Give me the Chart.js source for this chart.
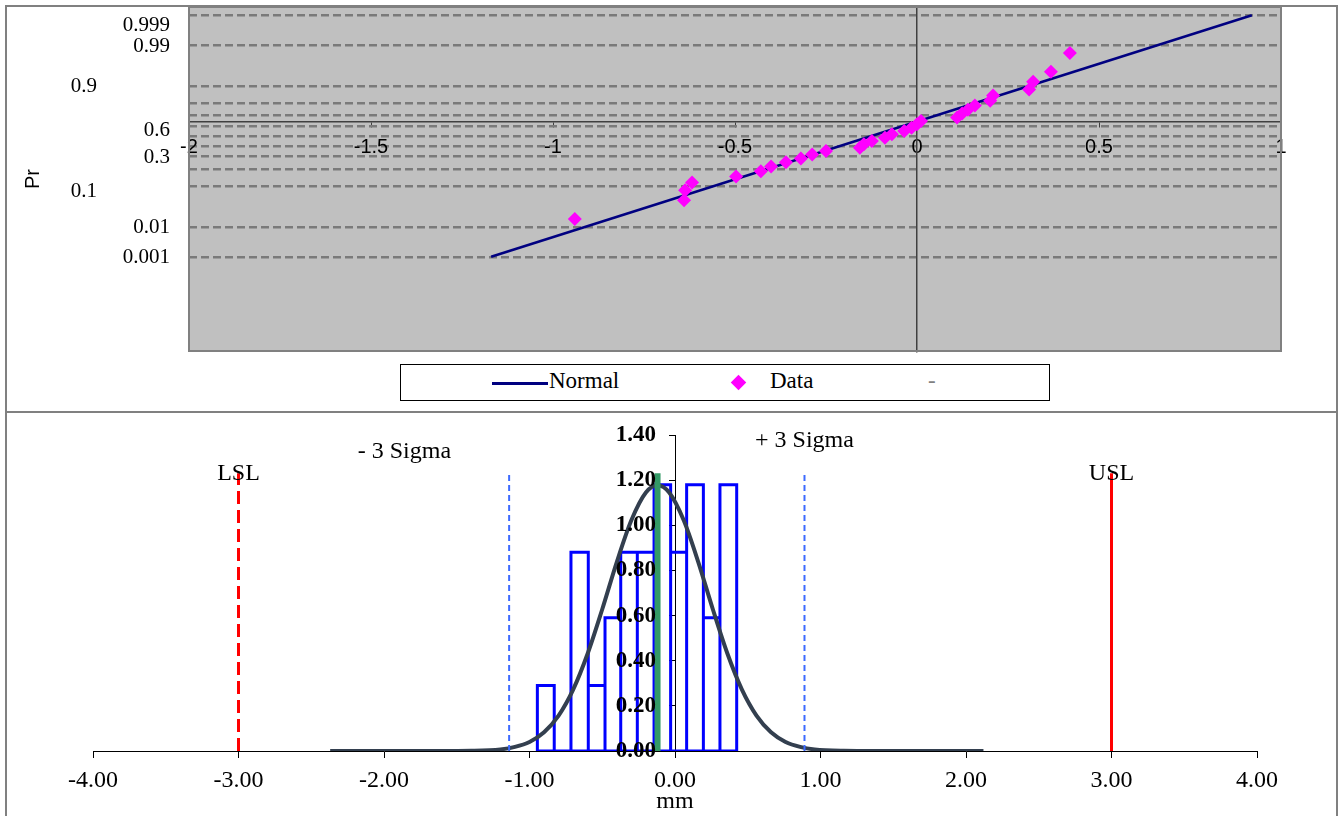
<!DOCTYPE html>
<html>
<head>
<meta charset="utf-8">
<script src="https://cdn.jsdelivr.net/npm/chart.js@4.4.1/dist/chart.umd.min.js"></script>
<style>
  body { margin: 0; background: #fff; width: 1343px; height: 816px; overflow: hidden; position: relative; }
  canvas { position: absolute; left: 0; }
  .frame { position: absolute; box-sizing: border-box; border: 2px solid #808080; }
  #legend { position: absolute; left: 400px; top: 364px; width: 650px; height: 37px; box-sizing: border-box;
            border: 1px solid #000; background: #fff; font: 23px "Liberation Serif", serif; color: #000; }
  #legend span { position: absolute; top: 3px; }
  #legend .ln { position: absolute; left: 91px; top: 17px; width: 56px; height: 3px; background: #000080; }
  #legend .dm { position: absolute; left: 332px; top: 12px; width: 11px; height: 11px; background: #ff00ff; transform: rotate(45deg); }
</style>
</head>
<body>
<div class="frame" style="left:5px;top:5px;width:1333px;height:408px"></div>
<div class="frame" style="left:5px;top:411px;width:1333px;height:420px"></div>
<canvas id="probChart" width="1343" height="412" style="top:0"></canvas>
<canvas id="histChart" width="1343" height="404" style="top:412px"></canvas>
<div id="legend">
  <div class="ln"></div><span style="left:148px">Normal</span>
  <div class="dm"></div><span style="left:369px">Data</span>
  <span style="left:527px;color:#808080">-</span>
</div>
<script>
// ---- probability plot data ----
const dataX = [-0.94, -0.64, -0.637, -0.618, -0.497, -0.429, -0.401, -0.36, -0.319, -0.288,
               -0.25, -0.157, -0.146, -0.124, -0.088, -0.069, -0.035, -0.015, 0.0, 0.011,
               0.11, 0.124, 0.14, 0.159, 0.201, 0.209, 0.308, 0.319, 0.368, 0.42];
const dataProb = [0.017, 0.05, 0.083, 0.117, 0.15, 0.183, 0.217, 0.25, 0.283, 0.317,
                  0.35, 0.383, 0.417, 0.45, 0.483, 0.517, 0.55, 0.583, 0.617, 0.65,
                  0.683, 0.717, 0.75, 0.783, 0.817, 0.85, 0.883, 0.917, 0.95, 0.983];
const normalX = [-1.17, 0.92];
const normalProb = [0.001, 0.999];
const gridProbs = [0.001, 0.01, 0.1, 0.2, 0.3, 0.4, 0.5, 0.6, 0.7, 0.8, 0.9, 0.99, 0.999];
const probLabels = ["0.999", "0.99", "0.9", "0.6", "0.3", "0.1", "0.01", "0.001"];

// ---- histogram data ----
const binEdges = [-0.946, -0.83, -0.715, -0.596, -0.481, -0.373, -0.259, -0.144, -0.03, 0.08, 0.195, 0.309, 0.424];
const binHeights = [0.29, 0, 0.88, 0.29, 0.59, 0.88, 0.88, 1.18, 0.88, 1.18, 0.59, 1.18];
const curveX = [-2.37, -1.62, -1.4, -1.2, -1.1, -1.0, -0.9, -0.8, -0.7, -0.6, -0.5, -0.4, -0.3, -0.2, -0.12,
                -0.04, 0.06, 0.16, 0.26, 0.36, 0.46, 0.56, 0.66, 0.76, 0.86, 0.96, 1.16, 1.38, 2.12];
const curveY = [0, 0, 0.001, 0.007, 0.018, 0.04, 0.083, 0.157, 0.272, 0.432, 0.628, 0.837, 1.022, 1.145, 1.177,
                1.145, 1.022, 0.837, 0.628, 0.432, 0.272, 0.157, 0.083, 0.04, 0.018, 0.007, 0.001, 0, 0];
const meanValue = -0.12;
const sigmaLimits = [-1.14, 0.89];
const specLimits = [-3, 3];
const markerTop = 1.23;

// inverse normal cdf (Acklam) for the probability axis
function probit(p) {
  const a = [-39.69683028665376, 220.9460984245205, -275.9285104469687, 138.357751867269, -30.66479806614716, 2.506628277459239];
  const b = [-54.47609879822406, 161.5858368580409, -155.6989798598866, 66.80131188771972, -13.28068155288572];
  const c = [-0.007784894002430293, -0.3223964580411365, -2.400758277161838, -2.549732539343734, 4.374664141464968, 2.938163982698783];
  const d = [0.007784695709041462, 0.3224671290700398, 2.445134137142996, 3.754408661907416];
  let q, r;
  if (p < 0.02425) {
    q = Math.sqrt(-2 * Math.log(p));
    return (((((c[0]*q+c[1])*q+c[2])*q+c[3])*q+c[4])*q+c[5]) / ((((d[0]*q+d[1])*q+d[2])*q+d[3])*q+1);
  }
  if (p > 1 - 0.02425) {
    q = Math.sqrt(-2 * Math.log(1 - p));
    return -(((((c[0]*q+c[1])*q+c[2])*q+c[3])*q+c[4])*q+c[5]) / ((((d[0]*q+d[1])*q+d[2])*q+d[3])*q+1);
  }
  q = p - 0.5; r = q * q;
  return (((((a[0]*r+a[1])*r+a[2])*r+a[3])*r+a[4])*r+a[5])*q / (((((b[0]*r+b[1])*r+b[2])*r+b[3])*r+b[4])*r+1);
}

const SANS = "'Liberation Sans', Arial, sans-serif";
const SERIF = "'Liberation Serif', 'Times New Roman', serif";

// top chart: background, frame and probability labels
const probPlugin = {
  id: "probPlugin",
  beforeDraw(chart) {
    const { ctx, chartArea: a } = chart;
    ctx.save();
    ctx.fillStyle = "#c0c0c0";
    ctx.fillRect(a.left, a.top, a.right - a.left, a.bottom - a.top);
    ctx.restore();
  },
  beforeDatasetsDraw(chart) {
    const { ctx, chartArea: a } = chart;
    ctx.save();
    ctx.strokeStyle = "#808080";
    ctx.lineWidth = 2;
    ctx.strokeRect(a.left, a.top, a.right - a.left, a.bottom - a.top);
    ctx.restore();
  },
  afterDraw(chart) {
    const { ctx } = chart;
    const y = chart.scales.y;
    const shift = { "0.999": 9, "0.6": 3, "0.1": 4 };
    const farLeft = { "0.9": true, "0.1": true };
    ctx.save();
    ctx.fillStyle = "#000";
    ctx.font = "21px " + SERIF;
    ctx.textAlign = "right";
    ctx.textBaseline = "middle";
    probLabels.forEach(lbl => {
      const py = y.getPixelForValue(probit(parseFloat(lbl))) + 1 + (shift[lbl] || 0);
      ctx.fillText(lbl, farLeft[lbl] ? 97 : 170, py);
    });
    ctx.font = "20px " + SANS;
    ctx.translate(33, 179);
    ctx.rotate(-Math.PI / 2);
    ctx.textAlign = "center";
    ctx.fillText("Pr", 0, 0);
    ctx.restore();
  }
};

new Chart(document.getElementById("probChart"), {
  type: "scatter",
  data: {
    datasets: [
      {
        label: "Data",
        data: dataX.map((x, i) => ({ x: x, y: probit(dataProb[i]) })),
        pointStyle: "rectRot",
        pointRadius: 7,
        backgroundColor: "#ff00ff",
        borderWidth: 0
      },
      {
        label: "Normal",
        data: normalX.map((x, i) => ({ x: x, y: probit(normalProb[i]) })),
        showLine: true,
        borderColor: "#000080",
        borderWidth: 2.5,
        pointRadius: 0
      }
    ]
  },
  options: {
    responsive: false,
    animation: false,
    layout: { padding: { left: 189, right: 62, top: 7, bottom: 61 } },
    plugins: { legend: { display: false }, tooltip: { enabled: false } },
    scales: {
      x: {
        type: "linear", min: -2, max: 1,
        position: { y: 0.36 },
        afterFit: s => { s.height = 0; },
        ticks: { stepSize: 0.5, color: "#000", font: { family: SANS, size: 20 }, padding: 9,
                 callback: v => String(v) },
        grid: { drawOnChartArea: false, tickLength: 5, color: "#404040" },
        border: { color: "#404040", width: 1.5 }
      },
      y: {
        type: "linear", min: -5.5, max: 3.3,
        position: { x: 0 },
        afterFit: s => { s.width = 0; },
        afterBuildTicks: s => { s.ticks = gridProbs.map(p => ({ value: probit(p) })); },
        ticks: { display: false },
        grid: { color: "#7a7a7a", lineWidth: 2.5, drawTicks: false },
        border: { display: true, color: "#404040", width: 1.5, dash: [8, 4] }
      }
    }
  },
  plugins: [probPlugin]
});

// bottom chart: histogram outline traced from bin edges and heights
const histPoints = [];
binHeights.forEach((h, i) => {
  histPoints.push({ x: binEdges[i], y: 0 }, { x: binEdges[i], y: h },
                  { x: binEdges[i + 1], y: h }, { x: binEdges[i + 1], y: 0 });
});
histPoints.push({ x: binEdges[0], y: 0 });

const vline = (x, color, width, dash) => ({
  data: [{ x: x, y: 0 }, { x: x, y: markerTop }],
  showLine: true, borderColor: color, borderWidth: width, borderDash: dash, pointRadius: 0
});

const histPlugin = {
  id: "histPlugin",
  afterDraw(chart) {
    const { ctx } = chart;
    const x = chart.scales.x, y = chart.scales.y;
    const axisX = x.getPixelForValue(0);
    ctx.save();
    ctx.fillStyle = "#000";
    // y tick labels, left of the centred axis
    ctx.font = "bold 23px " + SERIF;
    ctx.textAlign = "right";
    ctx.textBaseline = "middle";
    y.ticks.forEach(t => {
      ctx.fillText(t.value.toFixed(2), axisX - 19, y.getPixelForValue(t.value));
    });
    ctx.font = "24px " + SERIF;
    ctx.textAlign = "center";
    ctx.fillText("LSL", x.getPixelForValue(specLimits[0]), y.getPixelForValue(1.23));
    ctx.fillText("USL", x.getPixelForValue(specLimits[1]), y.getPixelForValue(1.23));
    ctx.fillText("- 3 Sigma", x.getPixelForValue(-1.86), y.getPixelForValue(1.325));
    ctx.fillText("+ 3 Sigma", x.getPixelForValue(0.89), y.getPixelForValue(1.374));
    ctx.fillText("mm", axisX, y.getPixelForValue(0) + 51);
    ctx.restore();
  }
};

new Chart(document.getElementById("histChart"), {
  type: "scatter",
  data: {
    datasets: [
      vline(specLimits[0], "#ff0000", 3, [13, 6]),
      vline(specLimits[1], "#ff0000", 3, []),
      vline(sigmaLimits[0], "#3d6bff", 2, [6, 4]),
      vline(sigmaLimits[1], "#3d6bff", 2, [6, 4]),
      vline(meanValue, "#339966", 6, []),
      {
        label: "Normal",
        data: curveX.map((x, i) => ({ x: x, y: curveY[i] })),
        showLine: true, borderColor: "#333f4f", borderWidth: 4,
        cubicInterpolationMode: "monotone", pointRadius: 0
      },
      {
        label: "Histogram",
        data: histPoints,
        showLine: true, borderColor: "#0000ff", borderWidth: 3,
        borderJoinStyle: "miter", pointRadius: 0
      }
    ]
  },
  options: {
    responsive: false,
    animation: false,
    layout: { padding: { left: 93, right: 86, top: 23, bottom: 65 } },
    plugins: { legend: { display: false }, tooltip: { enabled: false } },
    scales: {
      x: {
        type: "linear", min: -4, max: 4,
        position: { y: 0 },
        afterFit: s => { s.height = 0; },
        ticks: { stepSize: 1, color: "#000", font: { family: SERIF, size: 24 }, padding: 9,
                 callback: v => v.toFixed(2) },
        grid: { drawOnChartArea: false, tickLength: 6, color: "#000" },
        border: { color: "#000", width: 1 }
      },
      y: {
        type: "linear", min: 0, max: 1.4,
        position: { x: 0 },
        afterFit: s => { s.width = 0; },
        ticks: { stepSize: 0.2, display: false },
        grid: { drawOnChartArea: false, tickLength: 6, color: "#000" },
        border: { color: "#000", width: 1 }
      }
    }
  },
  plugins: [histPlugin]
});
</script>
</body>
</html>
